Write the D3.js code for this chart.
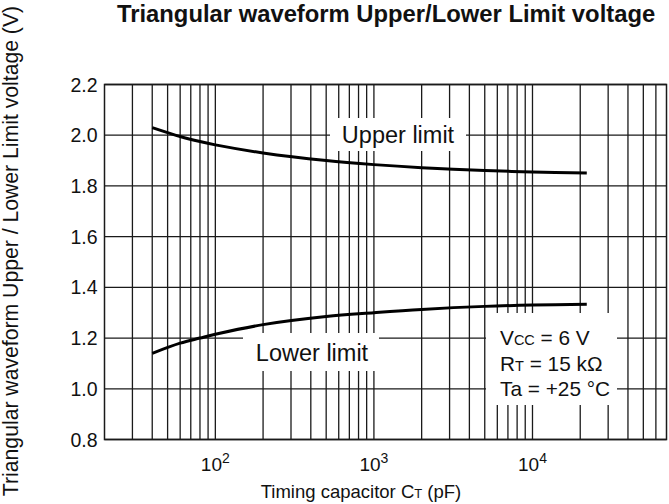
<!DOCTYPE html>
<html>
<head>
<meta charset="utf-8">
<script src="https://cdn.jsdelivr.net/npm/d3@7"></script>
<style>
  body { margin: 0; background: #fff; }
  svg text { font-family: "Liberation Sans", Arial, sans-serif; fill: #111; }
</style>
</head>
<body>
<div id="chart"></div>
<script>
// Timing capacitor values (pF) where the curves were read
const capacitance = [40, 60, 80, 100, 200, 500, 1000, 2000, 5000, 10000, 22000];
// Upper limit voltage (V)
const upperLimit = [2.03, 1.995, 1.975, 1.962, 1.93, 1.9, 1.884, 1.872, 1.861, 1.855, 1.851];
// Lower limit voltage (V)
const lowerLimit = [1.14, 1.18, 1.20, 1.215, 1.253, 1.285, 1.30, 1.313, 1.325, 1.33, 1.333];

const yTicks = [0.8, 1.0, 1.2, 1.4, 1.6, 1.8, 2.0, 2.2];
const xTickExponents = [2, 3, 4];
const conditions = [
    { main: "V", sub: "CC", rest: " = 6 V" },
    { main: "R", sub: "T", rest: " = 15 kΩ" },
    { main: "Ta", sub: "", rest: " = +25 °C" }
];

const width = 669, height = 504;
const margin = { top: 84.5, right: 2.5, bottom: 64.5, left: 104.5 };

const svg = d3.select("#chart").append("svg")
    .attr("width", width)
    .attr("height", height);

const x = d3.scaleLog()
    .domain([20, 70000])
    .range([margin.left, width - margin.right]);

const y = d3.scaleLinear()
    .domain([0.8, 2.2])
    .range([height - margin.bottom, margin.top]);

// Grid lines: every 1..9 step in each decade
const gridValues = [];
for (let e = 1; e <= 4; e++) {
    for (let m = 1; m <= 9; m++) {
        const v = m * Math.pow(10, e);
        if (v > 20 && v < 70000) gridValues.push(v);
    }
}

const grid = svg.append("g").attr("stroke", "#1a1a1a").attr("stroke-width", 1.3);

grid.selectAll(".vgrid")
    .data(gridValues)
    .enter().append("line")
    .attr("class", "vgrid")
    .attr("x1", d => x(d)).attr("x2", d => x(d))
    .attr("y1", y(2.2)).attr("y2", y(0.8));

grid.selectAll(".hgrid")
    .data(yTicks)
    .enter().append("line")
    .attr("class", "hgrid")
    .attr("x1", x(20)).attr("x2", x(70000))
    .attr("y1", d => y(d)).attr("y2", d => y(d));

// Plot frame
svg.append("rect")
    .attr("x", x(20)).attr("y", y(2.2))
    .attr("width", x(70000) - x(20))
    .attr("height", y(0.8) - y(2.2))
    .attr("fill", "none")
    .attr("stroke", "#1a1a1a")
    .attr("stroke-width", 1.5);

// Y tick labels
svg.selectAll(".ylab")
    .data(yTicks)
    .enter().append("text")
    .attr("class", "ylab")
    .attr("x", x(20) - 7)
    .attr("y", d => y(d) + 7)
    .attr("text-anchor", "end")
    .style("font-size", "19.5px")
    .text(d3.format(".1f"));

// X tick labels: 10^n
const xl = svg.selectAll(".xlab")
    .data(xTickExponents)
    .enter().append("text")
    .attr("class", "xlab")
    .attr("x", d => x(Math.pow(10, d)))
    .attr("y", 471)
    .attr("text-anchor", "middle")
    .style("font-size", "19px");
xl.append("tspan").text("10");
xl.append("tspan").attr("dy", -8).style("font-size", "14px").text(d => d);

// X axis title
const xt = svg.append("text")
    .attr("x", 361)
    .attr("y", 498)
    .attr("text-anchor", "middle")
    .style("font-size", "18.5px");
xt.append("tspan").text("Timing capacitor C");
xt.append("tspan").style("font-size", "13px").text("T");
xt.append("tspan").text(" (pF)");

// Y axis title
svg.append("text")
    .attr("transform", "translate(18," + 251 + ") rotate(-90)")
    .attr("text-anchor", "middle")
    .style("font-size", "21.2px")
    .text("Triangular waveform Upper / Lower Limit voltage (V)");

// Chart title
svg.append("text")
    .attr("x", 117)
    .attr("y", 22)
    .style("font-size", "23.8px")
    .style("font-weight", "bold")
    .text("Triangular waveform Upper/Lower Limit voltage");

// Label boxes (white background cuts the grid)
function labelBox(x0, y0, w, h) {
    svg.append("rect")
        .attr("x", x0).attr("y", y0)
        .attr("width", w).attr("height", h)
        .attr("fill", "#fff");
}

labelBox(330, 118, 136, 33);
svg.append("text")
    .attr("x", 398).attr("y", 143)
    .attr("text-anchor", "middle")
    .style("font-size", "23.5px")
    .text("Upper limit");

labelBox(243, 333, 136, 38);
svg.append("text")
    .attr("x", 312).attr("y", 361)
    .attr("text-anchor", "middle")
    .style("font-size", "23.5px")
    .text("Lower limit");

labelBox(486, 313, 131, 92);
const cond = svg.selectAll(".cond")
    .data(conditions)
    .enter().append("text")
    .attr("class", "cond")
    .attr("x", 500)
    .attr("y", (d, i) => 345 + i * 25.5)
    .style("font-size", "20.8px");
cond.append("tspan").text(d => d.main);
cond.append("tspan").style("font-size", "14.5px").text(d => d.sub);
cond.append("tspan").text(d => d.rest);

// Curves
const line = d3.line()
    .x(d => x(d[0]))
    .y(d => y(d[1]))
    .curve(d3.curveCatmullRom.alpha(0.5));

[upperLimit, lowerLimit].forEach(series => {
    svg.append("path")
        .datum(capacitance.map((c, i) => [c, series[i]]))
        .attr("d", line)
        .attr("fill", "none")
        .attr("stroke", "#000")
        .attr("stroke-width", 3);
});
</script>
</body>
</html>
